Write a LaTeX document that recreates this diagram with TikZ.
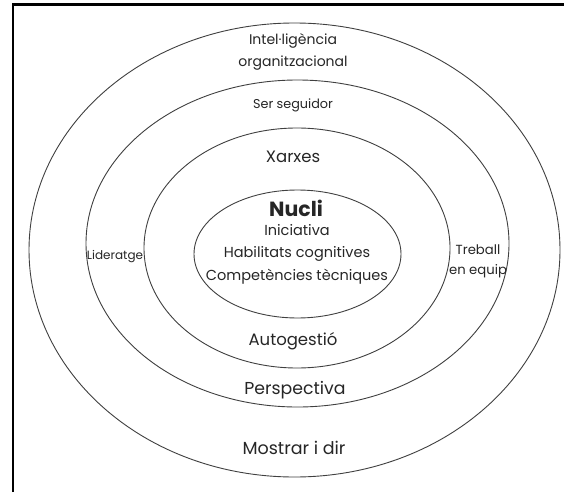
\documentclass[tikz,border=0pt]{standalone}
\usepackage{fontspec}
\setmainfont{Poppins}
\usetikzlibrary{shapes.geometric}
\begin{document}
\begin{tikzpicture}[x=1pt,y=-1pt,
  ring/.style={draw=black!75,line width=0.9pt,ellipse,inner sep=0pt},
  lbl/.style={inner sep=0pt,align=center,text=black!85},
  fs/.style={font=\fontsize{#1}{22}\selectfont}]
\useasboundingbox (0,0) rectangle (564,492);
\fill[white] (0,0) rectangle (564,492);
% frame (top and left edges)
\draw[line width=2.5pt] (13,492) -- (13,4.5) -- (564,4.5);
% concentric rings
\node[ring,minimum width=531pt,minimum height=454pt] (outer) at (294.5,250) {};
\node[ring,minimum width=423pt,minimum height=327pt] (middle) at (297.5,243.5) {};
\node[ring,minimum width=306pt,minimum height=240pt] (ring3) at (297,248) {};
\node[ring,minimum width=207pt,minimum height=128pt] (core) at (297.5,254) {};
% outer ring labels
\node[lbl,fs=14] (intel) at (293,52) {Intel·ligència\\organitzacional};
\node[lbl,fs=17.5] (mostrar) at (294,448) {Mostrar i dir};
% middle ring labels
\node[lbl,fs=12.8] (ser) at (293,105) {Ser seguidor};
\node[lbl,fs=17.3] (persp) at (295,390) {Perspectiva};
\node[lbl,fs=12] (lider) at (115,257) {Lideratge};
\node[lbl,font=\fontsize{13.2}{20}\selectfont] (treball) at (478,261) {Treball\\en equip};
% third ring labels
\node[lbl,fs=16.5] (xarxes) at (293,157) {Xarxes};
\node[lbl,fs=16.5] (auto) at (293,341) {Autogestió};
% core labels
\node[lbl,font=\fontsize{20.5}{22}\selectfont\bfseries] (nucli) at (296,208) {Nucli};
\node[lbl,font=\fontsize{14.5}{22.5}\selectfont] (core-txt) at (297,254) {Iniciativa\\Habilitats cognitives\\Competències tècniques};
\end{tikzpicture}
\end{document}
